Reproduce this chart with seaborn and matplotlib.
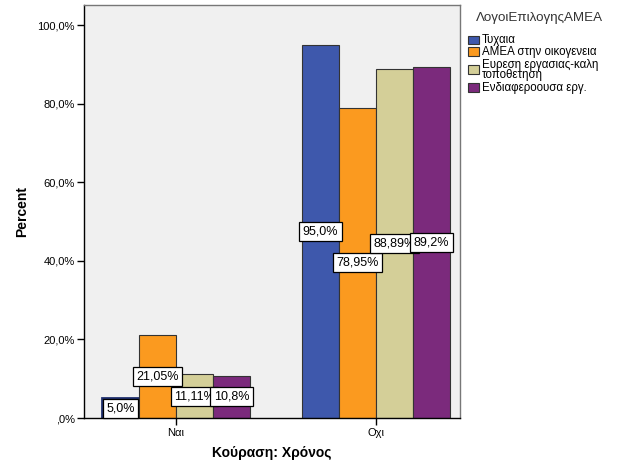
import matplotlib
matplotlib.use("Agg")
import matplotlib.pyplot as plt
import seaborn as sns
import pandas as pd
from matplotlib.patches import Rectangle

categories = ["Ναι", "Οχι"]
reasons = ["Τυχαια", "ΑΜΕΑ στην οικογενεια", "Ευρεση εργασιας-καλη\nτοποθετηση", "Ενδιαφεροουσα εργ."]
values = {
    "Τυχαια": [5.0, 95.0],
    "ΑΜΕΑ στην οικογενεια": [21.05, 78.95],
    "Ευρεση εργασιας-καλη\nτοποθετηση": [11.11, 88.89],
    "Ενδιαφεροουσα εργ.": [10.8, 89.2],
}
labels = {
    "Τυχαια": ["5,0%", "95,0%"],
    "ΑΜΕΑ στην οικογενεια": ["21,05%", "78,95%"],
    "Ευρεση εργασιας-καλη\nτοποθετηση": ["11,11%", "88,89%"],
    "Ενδιαφεροουσα εργ.": ["10,8%", "89,2%"],
}
colors = ["#3E58AC", "#FB9A1F", "#D4CF98", "#7B2A7C"]
yticks = [0, 20, 40, 60, 80, 100]
ytick_labels = [",0%", "20,0%", "40,0%", "60,0%", "80,0%", "100,0%"]
legend_title = "ΛογοιΕπιλογηςΑΜΕΑ"

rows = []
for r in reasons:
    for c, v in zip(categories, values[r]):
        rows.append({"cat": c, "reason": r, "val": v})
df = pd.DataFrame(rows)

sns.set_style("white")
plt.rcParams["font.family"] = ["Liberation Sans", "DejaVu Sans"]
plt.rcParams["text.color"] = "black"

W, H = 626, 470
fig = plt.figure(figsize=(W / 100, H / 100), dpi=100)
ax = fig.add_axes([0.134, 0.1106, 0.601, 0.878])
ax.set_facecolor("#F0F0F0")

sns.barplot(data=df, x="cat", y="val", hue="reason", order=categories,
            hue_order=reasons, palette=colors, width=0.74, edgecolor="#333333",
            linewidth=0.8, ax=ax, legend=False, errorbar=None, saturation=1)

for cont, r in zip(ax.containers, reasons):
    ax.bar_label(cont, labels=labels[r], label_type="center", fontsize=9, color="black",
                 bbox=dict(boxstyle="square,pad=0.28", fc="white", ec="black", lw=0.9))

# highlight small blue bar edge
first = ax.containers[0][0]
first.set_edgecolor("#1F2F6E")
first.set_linewidth(2)

ax.set_ylim(0, 105)
ax.set_xlim(-0.46, 1.42)
ax.set_yticks(yticks)
ax.set_yticklabels(ytick_labels, fontsize=8)
ax.set_xticks([0, 1])
ax.set_xticklabels(categories, fontsize=8)
ax.tick_params(axis="both", direction="out", length=5, width=1, color="black",
               bottom=True, left=True, labelcolor="black")
ax.tick_params(axis="y", pad=1.5)
ax.tick_params(axis="x", pad=2)
ax.set_xlabel("Κούραση: Χρόνος", fontsize=10, fontweight="bold", labelpad=6, color="black")
ax.set_ylabel("Percent", fontsize=10, fontweight="bold", labelpad=6, color="black")

for s in ["left", "bottom"]:
    ax.spines[s].set_color("black")
    ax.spines[s].set_linewidth(1)
for s in ["top", "right"]:
    ax.spines[s].set_color("#777777")
    ax.spines[s].set_linewidth(1)

# legend drawn in figure pixel coordinates
def fx(px):
    return px / W

def fy(py):
    return 1 - py / H

fig.text(fx(476), fy(18), legend_title, fontsize=9.6, color="#333333",
         ha="left", va="center")
handle_centers = [40, 51.5, 69.5, 87.5]
text_centers = [39.5, 51.5, 70, 87.5]
for c, hc, tc, txt in zip(colors, handle_centers, text_centers, reasons):
    fig.patches.append(Rectangle((fx(468), fy(hc + 4.2)), 11 / W, 8.4 / H,
                                 transform=fig.transFigure, facecolor=c,
                                 edgecolor="#333333", linewidth=0.8))
    fig.text(fx(481.5), fy(tc), txt, fontsize=8.3, color="black",
             ha="left", va="center", multialignment="left", linespacing=0.78)

fig.savefig("out.png", dpi=100)
